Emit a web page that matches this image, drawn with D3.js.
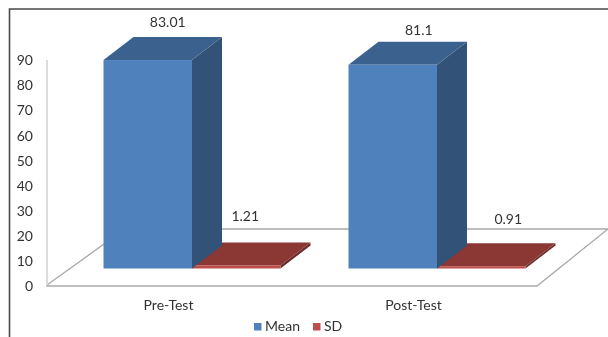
<!DOCTYPE html>
<html><head><meta charset="utf-8">
<script src="https://cdn.jsdelivr.net/npm/d3@7/dist/d3.min.js"></script>
<style>html,body{margin:0;padding:0;background:#fff}svg{display:block}
text{font-family:Lato,"Open Sans",sans-serif;fill:#333}</style></head>
<body><svg id="c" width="608" height="337"></svg>
<script>
const categories = ["Pre-Test", "Post-Test"];
const seriesNames = ["Mean", "SD"];
const meanValues = [83.01, 81.1];
const sdValues = [1.21, 0.91];
const yTicks = [0, 10, 20, 30, 40, 50, 60, 70, 80, 90];

const palette = {
  Mean: {front: "#4f81bd", top: "#3b628f", side: "#315277"},
  SD: {front: "#bd4f4c", top: "#8b3836", side: "#6e2c2a"}
};
const labelNudge = {Mean: [[20, -37], [26, -33]], SD: [[9, -48], [27, -46]]};

const svg = d3.select("#c");
const defs = svg.append("defs");
defs.append("filter").attr("id", "soft").append("feGaussianBlur").attr("stdDeviation", 0.55);
const root = svg.append("g").attr("filter", "url(#soft)");

const y = d3.scaleLinear().domain([0, 90]).range([285, 59]);
const x0 = d3.scaleBand().domain(categories).range([47, 537]);
const x1 = d3.scaleBand().domain(seriesNames).range([-88.5, 88.5]);

// chart frame
root.append("path").attr("d", "M9.5,337V9H608").attr("fill", "none").attr("stroke", "#4a4a4a").attr("stroke-width", 1.6);

// floor and wall
const floorDx = 71, floorDy = -56, planeDx = 22.5, planeDy = -16.5, barDx = 30, barDy = -23;
root.append("path")
  .attr("d", `M47,${y(0)}L${47 + floorDx + 7},${y(0) + floorDy}H608L537,${y(0) + 1}H47Z`)
  .attr("fill", "#fff").attr("stroke", "#a9a9a9").attr("stroke-width", 1.3);
root.append("line").attr("x1", 47).attr("x2", 47).attr("y1", 60).attr("y2", y(0))
  .attr("stroke", "#dcdcdc").attr("stroke-width", 2);

// axes
const yAxis = root.append("g").attr("transform", "translate(47,1.2)")
  .call(d3.axisLeft(y).tickValues(yTicks).tickSize(0).tickPadding(14));
yAxis.select(".domain").remove();
yAxis.selectAll("text").style("font-family", "Lato,sans-serif").style("font-size", "14px").attr("fill", "#333");

const xAxis = root.append("g").attr("transform", `translate(-1,${y(0)})`)
  .call(d3.axisBottom(x0).tickSize(0).tickPadding(15));
xAxis.select(".domain").remove();
xAxis.selectAll("text").style("font-family", "Lato,sans-serif").style("font-size", "14px").attr("fill", "#333");

// 3-D bars
const series = [{name: "SD", values: sdValues}, {name: "Mean", values: meanValues}];
series.forEach(s => {
  const g = root.append("g");
  const c = palette[s.name];
  s.values.forEach((v, i) => {
    const cx = x0(categories[i]) + x0.bandwidth() / 2 + planeDx;
    const l = cx + x1(s.name), r = l + x1.bandwidth();
    const b = y(0) + planeDy, t = y(v) + planeDy;
    g.append("polygon").attr("fill", c.side)
      .attr("points", [[r, t], [r + barDx, t + barDy], [r + barDx, b + barDy], [r, b]].join(" "));
    g.append("polygon").attr("fill", c.top)
      .attr("points", [[l, t], [l + barDx, t + barDy], [r + barDx, t + barDy], [r, t]].join(" "));
    g.append("rect").attr("fill", c.front).attr("x", l).attr("y", t).attr("width", r - l).attr("height", b - t);
  });
});

// value labels
series.forEach(s => {
  s.values.forEach((v, i) => {
    const cx = x0(categories[i]) + x0.bandwidth() / 2 + planeDx + x1(s.name) + x1.bandwidth() / 2;
    const n = labelNudge[s.name][i];
    root.append("text").attr("x", cx + n[0]).attr("y", y(v) + planeDy + n[1])
      .attr("text-anchor", "middle").attr("dominant-baseline", "middle")
      .style("font-size", "14px").text(v);
  });
});

// legend
const legendX = d3.scaleOrdinal().domain(seriesNames).range([254, 313]);
const legend = root.append("g").selectAll("g").data(seriesNames).join("g")
  .attr("transform", d => `translate(${legendX(d)},323)`);
legend.append("rect").attr("width", 7.5).attr("height", 7.5).attr("fill", d => palette[d].front);
legend.append("text").attr("x", 11).attr("y", 4.5).attr("dominant-baseline", "middle")
  .style("font-size", "14px").text(d => d);
</script></body></html>
